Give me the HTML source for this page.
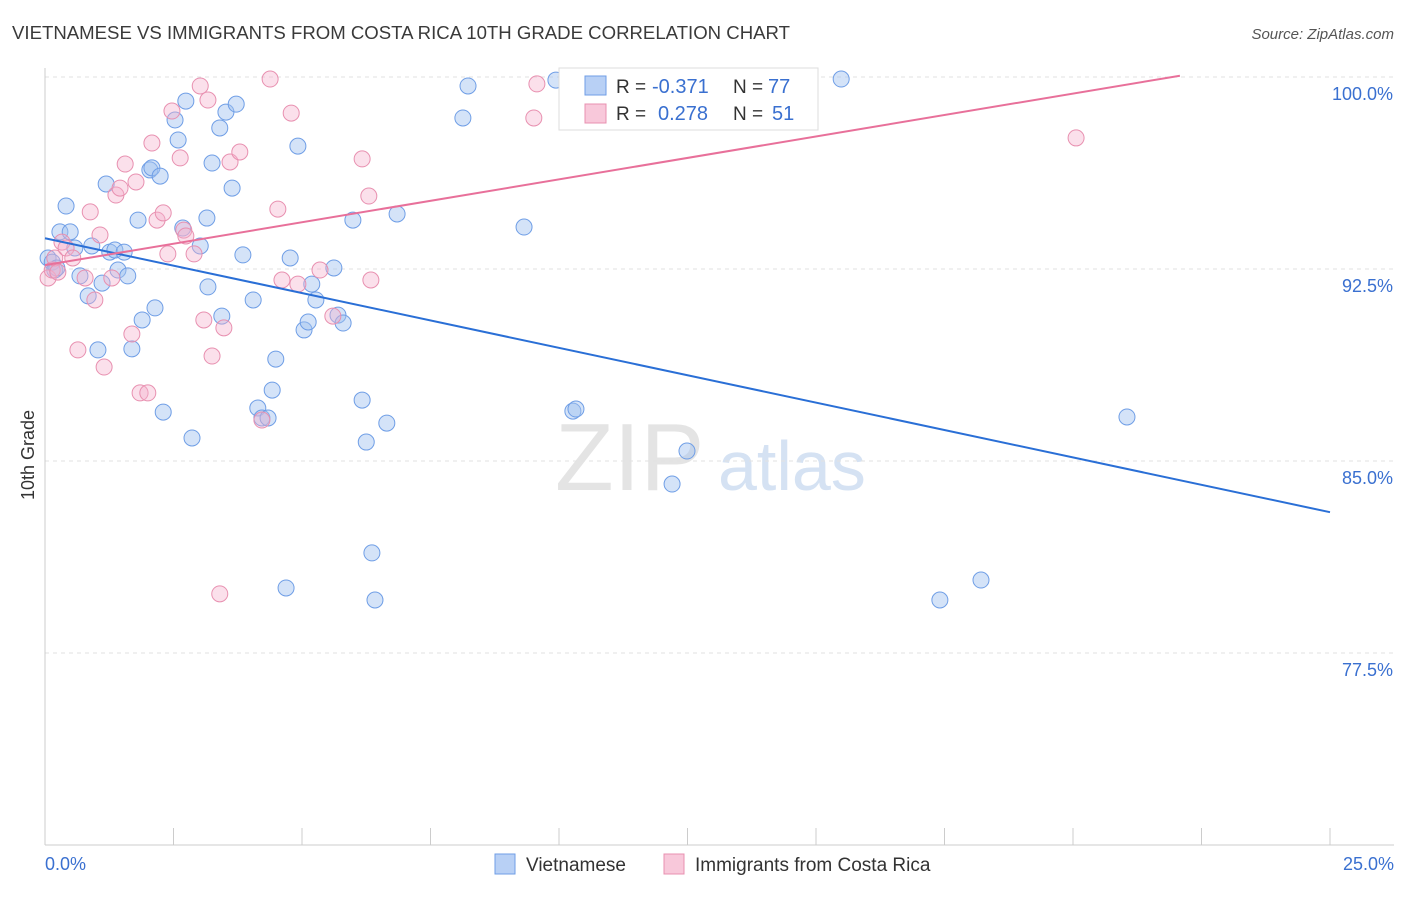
<!DOCTYPE html>
<html><head><meta charset="utf-8"><style>
body{margin:0;background:#fff;font-family:"Liberation Sans",sans-serif;}
svg text{font-family:"Liberation Sans",sans-serif;}
</style></head><body>
<svg id="chart" width="1406" height="892" xmlns="http://www.w3.org/2000/svg">
<text x="12" y="39" font-size="18" fill="#3a3a3a" textLength="778" lengthAdjust="spacingAndGlyphs">VIETNAMESE VS IMMIGRANTS FROM COSTA RICA 10TH GRADE CORRELATION CHART</text>
<text x="1394" y="39" font-size="15" fill="#555" text-anchor="end" font-style="italic">Source: ZipAtlas.com</text>
<text x="555" y="490" font-size="96" fill="#e4e4e4" font-family="Liberation Serif">ZIP</text>
<text x="718" y="490" font-size="70" fill="#d5e2f3">atlas</text>
<text transform="translate(34,455) rotate(-90)" font-size="18" fill="#333" text-anchor="middle">10th Grade</text>
<g id="grid"></g><g id="pts"></g><g id="lines"></g>
<g>
<rect x="559" y="68" width="259" height="62" fill="#fff" stroke="#ddd"/>
<rect x="585" y="76" width="21" height="19" fill="#b8d0f5" stroke="#6f9ee6"/>
<text x="616" y="93" font-size="19" fill="#333">R =</text>
<text x="652" y="93" font-size="20" fill="#3a70d0">-0.371</text>
<text x="733" y="93" font-size="19" fill="#333">N =</text>
<text x="768" y="93" font-size="20" fill="#3a70d0">77</text>
<rect x="585" y="104" width="21" height="19" fill="#f8c8da" stroke="#e890b0"/>
<text x="616" y="120" font-size="19" fill="#333">R =</text>
<text x="658" y="120" font-size="20" fill="#3a70d0">0.278</text>
<text x="733" y="120" font-size="19" fill="#333">N =</text>
<text x="772" y="120" font-size="20" fill="#3a70d0">51</text>
</g>
<g>
<rect x="495" y="854" width="20" height="20" fill="#b8d0f5" stroke="#6f9ee6"/>
<text x="526" y="871" font-size="19" fill="#333">Vietnamese</text>
<rect x="664" y="854" width="20" height="20" fill="#f8c8da" stroke="#e890b0"/>
<text x="695" y="871" font-size="19" fill="#333">Immigrants from Costa Rica</text>
</g>
</svg>
<script>
const yTicks=[77.5,85.0,92.5,100.0];
const xTickLabels=["0.0%","25.0%"];
const blueX=[0.06,0.14,0.19,0.23,0.29,0.41,0.49,0.58,0.68,0.84,0.91,1.03,1.11,1.19,1.26,1.36,1.42,1.54,1.61,1.81,1.89,2.04,2.08,2.14,2.24,2.30,2.53,2.59,2.68,2.74,2.86,3.02,3.15,3.17,3.25,3.40,3.44,3.52,3.64,3.72,3.85,4.05,4.14,4.22,4.34,4.42,4.49,4.69,4.77,4.92,5.04,5.12,5.19,5.27,5.62,5.70,5.80,5.99,6.17,6.25,6.36,6.42,6.65,6.85,8.13,8.23,9.32,9.94,10.27,10.33,12.20,12.49,15.49,17.41,18.21,21.05,1.69];
const blueY=[92.93,92.77,92.46,92.54,93.95,94.96,93.95,93.32,92.23,91.45,93.40,89.34,91.95,95.82,93.16,93.24,92.46,93.16,92.23,94.41,90.51,96.37,96.45,90.98,96.13,86.91,98.32,97.54,94.10,99.06,85.90,93.40,94.49,91.80,96.64,98.01,90.66,98.63,95.66,98.94,93.05,91.29,87.07,86.68,86.68,87.77,88.98,80.04,92.93,97.30,90.12,90.43,91.91,91.29,92.54,90.70,90.39,94.41,87.38,85.74,81.41,79.57,86.48,94.65,98.40,99.65,94.14,99.88,86.95,87.03,84.10,85.39,99.92,79.57,80.35,86.72,89.38];
const pinkX=[0.06,0.14,0.19,0.25,0.33,0.41,0.54,0.64,0.78,0.88,0.97,1.07,1.15,1.30,1.38,1.46,1.56,1.69,1.77,1.85,2.00,2.08,2.18,2.30,2.39,2.47,2.63,2.70,2.74,2.90,3.02,3.09,3.17,3.25,3.40,3.48,3.60,3.79,4.22,4.38,4.53,4.61,4.79,4.92,5.35,5.60,6.17,6.30,6.34,9.51,9.57,20.06];
const pinkY=[92.15,92.46,92.93,92.38,93.55,93.32,92.93,89.34,92.15,94.73,91.29,93.83,88.67,92.15,95.39,95.66,96.60,89.96,95.90,87.66,87.66,97.42,94.41,94.69,93.09,98.67,96.84,94.02,93.79,93.09,99.65,90.51,99.10,89.10,79.81,90.20,96.68,97.07,86.60,99.92,94.84,92.07,98.59,91.91,92.46,90.66,96.80,95.35,92.07,98.40,99.73,97.62];
const blueTrend=[[0,93.7],[25,83.0]];
const pinkTrend=[[0,92.65],[22.08,100.05]];
const NS="http://www.w3.org/2000/svg";
const X=v=>45+v/25*1285, Y=v=>269+(92.5-v)*25.6;
function mk(t,a,p){const e=document.createElementNS(NS,t);for(const k in a)e.setAttribute(k,a[k]);p.appendChild(e);return e;}
const grid=document.getElementById('grid');
yTicks.forEach(t=>{
 const l=mk('line',{x1:45,x2:1394,y1:Y(t),y2:Y(t),stroke:'#e2e2e2','stroke-dasharray':'4,4'},grid);
 
 
 const tx=mk('text',{x:1393,y:Y(t)+23,'font-size':18,fill:'#3a70d0','text-anchor':'end'},grid);
 tx.textContent=t.toFixed(1)+'%';
 
 
});
const ax=mk('line',{x1:45,x2:45,y1:68,y2:845,stroke:'#ccc'},grid);


const bx=mk('line',{x1:45,x2:1394,y1:845,y2:845,stroke:'#ccc'},grid);


for(let i=1;i<=10;i++){const tk=mk('line',{x1:X(i*2.5),x2:X(i*2.5),y1:828,y2:845,stroke:'#ccc'},grid);
 
 }
[[0,'start',45],[1,'end',1394]].forEach(([i,a,x])=>{const t=mk('text',{x:x,y:870,'font-size':18,fill:'#3a70d0','text-anchor':a},grid);t.textContent=xTickLabels[i];
 
 });
const pts=document.getElementById('pts');
blueX.forEach((x,i)=>{const c=mk('circle',{cx:X(x),cy:Y(blueY[i]),r:8,fill:'rgba(160,192,240,0.45)',stroke:'#6f9ee6','stroke-width':1},pts);
 
 });
pinkX.forEach((x,i)=>{const c=mk('circle',{cx:X(x),cy:Y(pinkY[i]),r:8,fill:'rgba(246,178,204,0.4)',stroke:'#e890b0','stroke-width':1},pts);
 
 });
const lines=document.getElementById('lines');
const bl=mk('line',{x1:X(blueTrend[0][0]),y1:Y(blueTrend[0][1]),x2:X(blueTrend[1][0]),y2:Y(blueTrend[1][1]),stroke:'#2a6fd6','stroke-width':2},lines);


const pl=mk('line',{x1:X(pinkTrend[0][0]),y1:Y(pinkTrend[0][1]),x2:X(pinkTrend[1][0]),y2:Y(pinkTrend[1][1]),stroke:'#e8709a','stroke-width':2},lines);


</script>
</body></html>
